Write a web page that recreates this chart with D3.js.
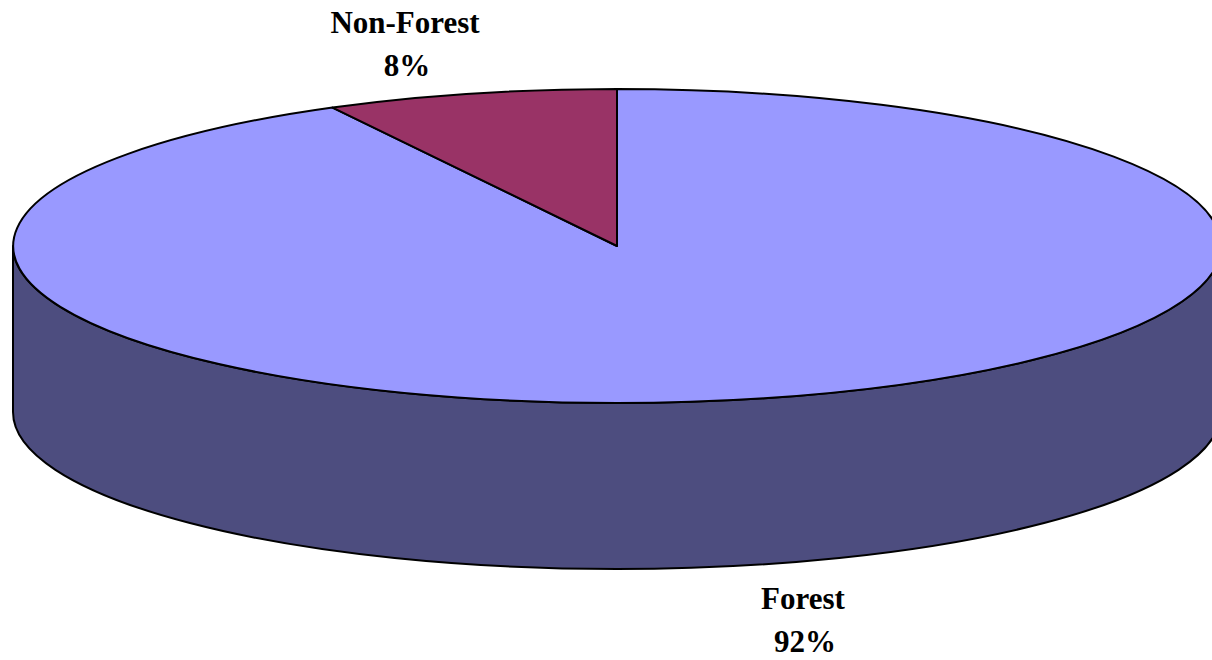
<!DOCTYPE html>
<html lang="en">
<head>
<meta charset="utf-8" />
<title>Forest cover</title>
<script src="https://d3js.org/d3.v7.min.js"></script>
<style>
    html, body { margin: 0; background: #fff; overflow: hidden; }
    svg { display: block; }
    text { font-family: "Liberation Serif", serif; font-weight: bold; font-size: 31px; fill: #000; text-anchor: middle; }
    .outline { stroke: #000; stroke-width: 2; vector-effect: non-scaling-stroke; stroke-linejoin: round; }
</style>
</head>
<body>
<div id="chart"></div>
<script>
    // values, the labels round them to 8% and 92%
    var categories = ["Forest", "Non-Forest"];
    var shares = [92.2, 7.8];
    var colors = ["#9999ff", "#993366"];
    var wallColor = "#4d4d7f";

    var width = 1212, height = 660;
    // centre and radii of the tilted disc, depth of its wall
    var cx = 617, cy = 246, rx = 604, ry = 157, depth = 166;
    // where each label block is centred: x, first baseline
    var labelPos = { "Forest": [803, 609], "Non-Forest": [405, 33] };
    var lineGap = 43, pctShift = 2;

    var svg = d3.select("#chart").append("svg")
        .attr("width", width)
        .attr("height", height);

    // everything on the disc is drawn on a unit circle, then squashed
    var disc = svg.append("g")
        .attr("transform", "translate(" + cx + "," + cy + ") scale(" + rx + "," + ry + ")");

    // wall: front half of the rim, pushed down by the depth
    var d = depth / ry;
    var wall = d3.path();
    wall.moveTo(-1, 0);
    wall.lineTo(-1, d);
    wall.arc(0, d, 1, Math.PI, 0, true);
    wall.lineTo(1, 0);
    wall.arc(0, 0, 1, 0, Math.PI, false);
    wall.closePath();
    disc.append("path")
        .attr("class", "outline")
        .attr("d", wall.toString())
        .attr("fill", wallColor);

    // pie runs clockwise from 12 o'clock, Forest first, Non-Forest ends back at the top
    var pie = d3.pie().sort(null);
    var arc = d3.arc().innerRadius(0).outerRadius(1);

    disc.selectAll("path.slice")
        .data(pie(shares))
        .enter()
        .append("path")
        .attr("class", "slice outline")
        .attr("d", arc)
        .attr("fill", function (s, i) { return colors[i]; });

    var total = d3.sum(shares);
    var pct = d3.format(".0%");

    categories.forEach(function (name, i) {
        var p = labelPos[name];
        svg.append("text").attr("x", p[0]).attr("y", p[1]).text(name);
        svg.append("text").attr("x", p[0] + pctShift).attr("y", p[1] + lineGap).text(pct(shares[i] / total));
    });
</script>
</body>
</html>
